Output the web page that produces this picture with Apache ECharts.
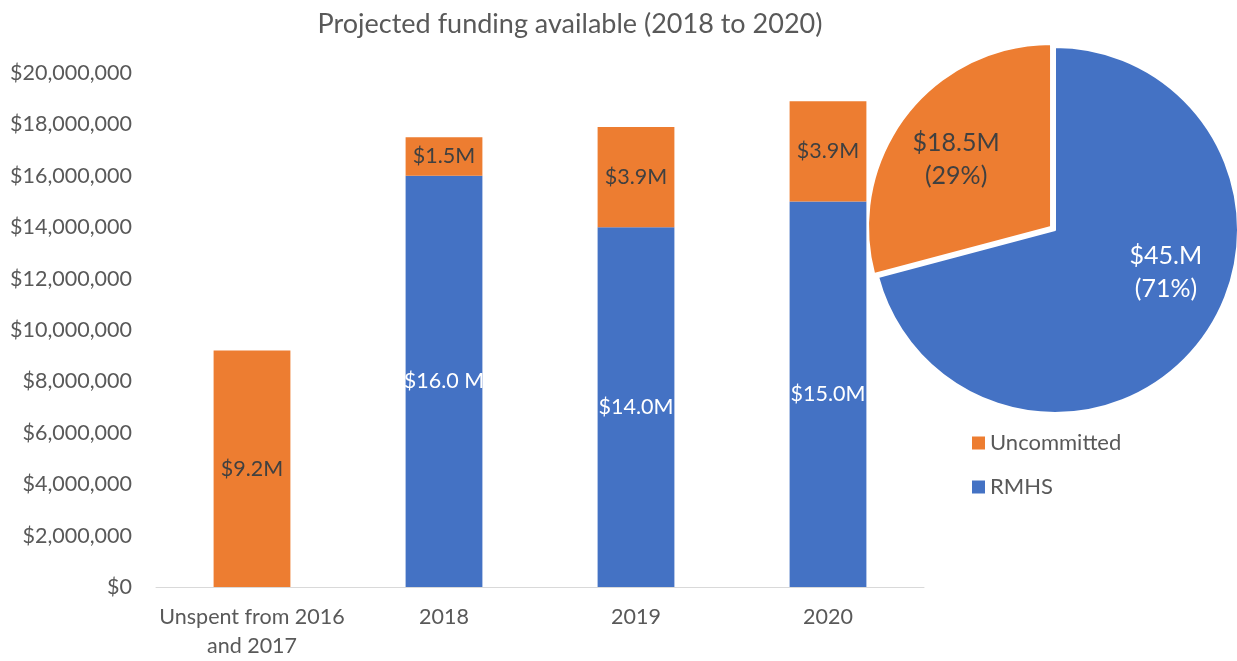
<!DOCTYPE html>
<html>
<head>
<meta charset="utf-8">
<script src="https://cdn.jsdelivr.net/npm/echarts@6/dist/echarts.min.js"></script>
<style>
  html, body { margin: 0; padding: 0; background: #fff; }
  #chart { width: 1237px; height: 661px; }
</style>
</head>
<body>
<div id="chart"></div>
<script>
const categories = ['Unspent from 2016\nand 2017', '2018', '2019', '2020'];
const rmhsValues = [null, 16000000, 14000000, 15000000];
const uncommittedValues = [9200000, 1500000, 3900000, 3900000];
const rmhsLabels = ['', '$16.0 M', '$14.0M', '$15.0M'];
const uncommittedLabels = ['$9.2M', '$1.5M', '$3.9M', '$3.9M'];

const pieNames = ['RMHS', 'Uncommitted'];
const pieValues = [45, 18.5];
const pieLabels = ['$45.M\n(71%)', '$18.5M\n(29%)'];

const BLUE = '#4472C4';
const ORANGE = '#ED7D31';
const FONT = 'Lato, "Open Sans", sans-serif';

const chart = echarts.init(document.getElementById('chart'));

const pieData = pieNames.map((n, i) => {
    // nudge labels outwards, as the original places them further from the centre
    const lbl = {
        color: n === 'RMHS' ? '#fff' : '#404040',
        padding: n === 'RMHS' ? [0, 0, 0, 72] : [0, 40, 0, 0],
        offset: n === 'RMHS' ? [0, -15] : [0, -10]
    };
    return {
        name: n,
        value: pieValues[i],
        selected: n === 'Uncommitted',
        itemStyle: { color: n === 'RMHS' ? BLUE : ORANGE },
        label: lbl,
        select: { label: lbl }
    };
});

chart.setOption({
    textStyle: { fontFamily: FONT },
    title: {
        text: 'Projected funding available (2018 to 2020)',
        left: 565,
        textAlign: 'center',
        top: 6,
        textStyle: { fontSize: 27, fontWeight: 'normal', color: '#595959', fontFamily: FONT }
    },
    legend: {
        orient: 'vertical',
        left: 967,
        top: 427,
        itemGap: 22,
        itemWidth: 13,
        itemHeight: 13,
        icon: 'rect',
        data: ['Uncommitted', 'RMHS'],
        textStyle: { fontSize: 22, color: '#595959', fontFamily: FONT }
    },
    grid: { left: 156, right: 313, top: 73, bottom: 71 },
    xAxis: {
        type: 'category',
        data: categories,
        axisTick: { show: false },
        axisLine: { lineStyle: { color: '#D9D9D9' } },
        axisLabel: { interval: 0, fontSize: 21.5, color: '#595959', margin: 16, lineHeight: 29, fontFamily: FONT }
    },
    yAxis: {
        type: 'value',
        min: 0,
        max: 20000000,
        interval: 2000000,
        splitLine: { show: false },
        axisLine: { show: false },
        axisLabel: {
            fontSize: 21.5, color: '#595959', margin: 24, fontFamily: FONT,
            formatter: v => '$' + v.toLocaleString('en-US')
        }
    },
    series: [
        {
            name: 'RMHS',
            type: 'bar',
            stack: 'funding',
            barWidth: '40%',
            data: rmhsValues,
            itemStyle: { color: BLUE },
            label: {
                show: true,
                position: 'inside',
                fontSize: 21.5,
                color: '#fff',
                fontFamily: FONT,
                formatter: p => rmhsLabels[p.dataIndex]
            }
        },
        {
            name: 'Uncommitted',
            type: 'bar',
            stack: 'funding',
            barWidth: '40%',
            data: uncommittedValues,
            itemStyle: { color: ORANGE },
            label: {
                show: true,
                position: 'inside',
                fontSize: 21.5,
                color: '#404040',
                fontFamily: FONT,
                formatter: p => uncommittedLabels[p.dataIndex]
            }
        },
        {
            name: 'Total',
            type: 'pie',
            center: [1055, 230],
            radius: [0, 183],
            startAngle: 90,
            clockwise: true,
            selectedMode: 'single',
            selectedOffset: 5,
            avoidLabelOverlap: false,
            silent: true,
            itemStyle: { borderColor: '#fff', borderWidth: 2 },
            labelLine: { show: false },
            labelLayout: { hideOverlap: false },
            label: {
                show: true,
                position: 'inside',
                fontSize: 25,
                lineHeight: 33,
                fontFamily: FONT,
                formatter: p => pieLabels[p.dataIndex]
            },
            data: pieData
        }
    ]
});
</script>
</body>
</html>
